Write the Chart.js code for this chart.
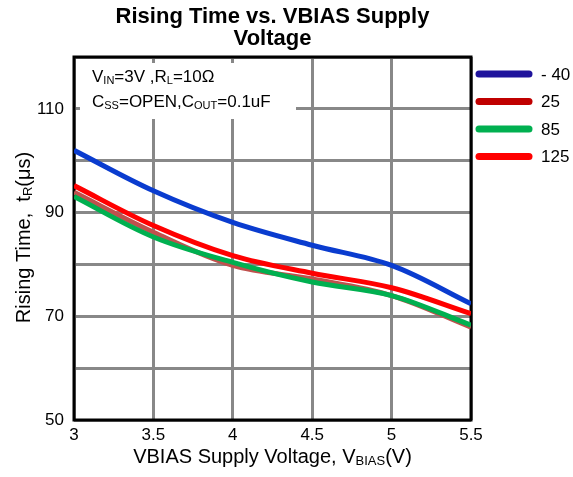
<!DOCTYPE html>
<html>
<head>
<meta charset="utf-8">
<script src="https://cdn.jsdelivr.net/npm/chart.js@4"></script>
<style>
  html, body { margin: 0; padding: 0; background: #fff; }
  #wrap { width: 573px; height: 477px; }
</style>
</head>
<body>
<div id="wrap"><canvas id="riseChart"></canvas></div>
<script>
// data
const voltages = [3, 3.5, 4, 4.5, 5, 5.5];
const tempLabels = ['- 40', '25', '85', '125'];
const riseMinus40 = [102.0, 94.2, 88.1, 83.7, 79.8, 72.4];
const rise25 = [93.9, 86.2, 79.8, 77.2, 74.0, 67.9];
const rise85 = [93.1, 85.3, 80.4, 76.6, 74.0, 68.3];
const rise125 = [95.2, 87.5, 81.7, 78.3, 75.5, 70.5];
const yTickLabels = [50, 70, 90, 110];

const FONT = "'Liberation Sans', Arial, sans-serif";

const toPoints = (vals) => vals.map((v, i) => ({ x: voltages[i], y: v }));

// draw text with subscript pieces
function drawRich(ctx, parts, x, y, size, align) {
  let total = 0;
  for (const p of parts) {
    ctx.font = (p.sub ? Math.round(size * 0.65) : size) + 'px ' + FONT;
    p.w = ctx.measureText(p.t).width;
    total += p.w;
  }
  let cx = align === 'center' ? x - total / 2 : x;
  ctx.textAlign = 'left';
  ctx.textBaseline = 'alphabetic';
  for (const p of parts) {
    ctx.font = (p.sub ? Math.round(size * 0.65) : size) + 'px ' + FONT;
    ctx.fillText(p.t, cx, p.sub ? y + 2 : y);
    cx += p.w;
  }
}

const decorPlugin = {
  id: 'decor',
  beforeDatasetsDraw(chart) {
    const { ctx, chartArea: a } = chart;
    ctx.save();
    // white note box on top of the grid
    ctx.fillStyle = '#fff';
    ctx.fillRect(a.left + 6, a.top + 6, 216, 56);
    // frame
    ctx.strokeStyle = '#000';
    ctx.lineWidth = 3;
    ctx.strokeRect(a.left, a.top, a.right - a.left, a.bottom - a.top);
    // conditions note
    ctx.fillStyle = '#000';
    drawRich(ctx, [{ t: 'V' }, { t: 'IN', sub: true }, { t: '=3V ,R' }, { t: 'L', sub: true }, { t: '=10Ω' }],
      a.left + 18, a.top + 25, 17, 'left');
    drawRich(ctx, [{ t: 'C' }, { t: 'SS', sub: true }, { t: '=OPEN,C' }, { t: 'OUT', sub: true }, { t: '=0.1uF' }],
      a.left + 18, a.top + 50, 17, 'left');
    ctx.restore();
  },
  afterDraw(chart) {
    const { ctx, chartArea: a } = chart;
    const midX = (a.left + a.right) / 2;
    ctx.save();
    ctx.fillStyle = '#000';
    // title
    ctx.font = 'bold 22px ' + FONT;
    ctx.textAlign = 'center';
    ctx.textBaseline = 'middle';
    ctx.fillText('Rising Time vs. VBIAS Supply', midX, 17);
    ctx.fillText('Voltage', midX, 39);
    // x title
    drawRich(ctx, [{ t: 'VBIAS Supply Voltage, V' }, { t: 'BIAS', sub: true }, { t: '(V)' }],
      midX, 463, 20, 'center');
    // y title
    ctx.translate(30, (a.top + a.bottom) / 2 - 1);
    ctx.rotate(-Math.PI / 2);
    drawRich(ctx, [{ t: 'Rising Time,  t' }, { t: 'R', sub: true }, { t: '(μs)' }], 0, 0, 20, 'center');
    ctx.restore();

    // legend
    ctx.save();
    ctx.lineCap = 'round';
    ctx.lineWidth = 7;
    chart.data.datasets.forEach((ds, i) => {
      const y = 74 + i * 27.5;
      ctx.strokeStyle = ds.legendColor;
      ctx.beginPath();
      ctx.moveTo(a.right + 8, y);
      ctx.lineTo(a.right + 58, y);
      ctx.stroke();
      ctx.fillStyle = '#000';
      ctx.font = '17px ' + FONT;
      ctx.textAlign = 'left';
      ctx.textBaseline = 'middle';
      ctx.fillText(ds.label, a.right + 70, y + 1);
    });
    ctx.restore();
  }
};

const seriesVals = [riseMinus40, rise25, rise85, rise125];
const lineColors = ['#0a3ccf', '#c0504d', '#00b050', '#ff0000'];
const legendColors = ['#1f139c', '#c00000', '#00b050', '#ff0000'];
const drawOrder = [1, 4, 3, 2];

new Chart(document.getElementById('riseChart'), {
  type: 'line',
  data: {
    datasets: seriesVals.map((vals, i) => ({
      label: tempLabels[i],
      data: toPoints(vals),
      borderColor: lineColors[i],
      legendColor: legendColors[i],
      borderWidth: 5,
      pointRadius: 0,
      tension: 0.35,
      fill: false,
      order: drawOrder[i]
    }))
  },
  options: {
    responsive: true,
    maintainAspectRatio: false,
    animation: false,
    layout: { padding: { top: 57, right: 102, left: 0, bottom: 0 } },
    plugins: {
      legend: { display: false },
      title: { display: false },
      tooltip: { enabled: false }
    },
    scales: {
      x: {
        type: 'linear',
        min: 3,
        max: 5.5,
        afterFit: (s) => { s.height = 57; },
        border: { display: false },
        grid: { color: '#888', lineWidth: 3, drawTicks: false },
        ticks: {
          stepSize: 0.5,
          padding: 5,
          color: '#000',
          font: { family: FONT, size: 17 },
          maxRotation: 0,
          callback: (v) => String(v)
        }
      },
      y: {
        min: 50,
        max: 120,
        afterFit: (s) => { s.width = 74; },
        border: { display: false },
        grid: { color: '#888', lineWidth: 3, drawTicks: false },
        ticks: {
          stepSize: 10,
          padding: 10,
          color: '#000',
          font: { family: FONT, size: 17 },
          callback: (v) => (yTickLabels.includes(v) ? String(v) : '')
        }
      }
    }
  },
  plugins: [decorPlugin]
});
</script>
</body>
</html>
